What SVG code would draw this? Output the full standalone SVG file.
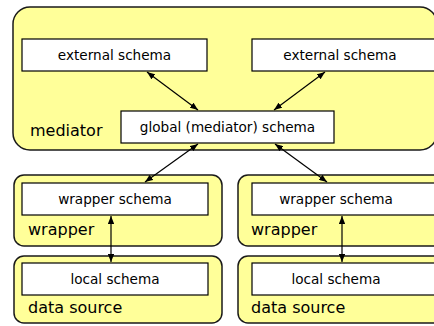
<svg xmlns="http://www.w3.org/2000/svg" width="434" height="326" viewBox="0 0 434 326">
<style>
.grp{fill:#FFFF99;stroke:#1a1a1a;stroke-width:1.5}
.sch{fill:#fff;stroke:#000;stroke-width:1.2}
.st{font-family:"DejaVu Sans",sans-serif;font-size:13.6px;fill:#000;text-anchor:middle}
.lb{font-family:"DejaVu Sans",sans-serif;font-size:16px;fill:#000}
.con{stroke:#000;stroke-width:1.2;fill:none;marker-start:url(#ah);marker-end:url(#ah)}
</style>
<defs>
<marker id="ah" viewBox="0 0 10 8" refX="10" refY="4" markerWidth="8" markerHeight="6.4" markerUnits="userSpaceOnUse" orient="auto-start-reverse">
<path d="M0,0 L10,4 L0,8 Z" fill="#000"/>
</marker>
</defs>
<g id="mediator">
<rect class="grp" x="13" y="7" width="424" height="143" rx="17"/>
<text class="lb" x="30" y="136">mediator</text>
</g>
<g id="external-schema-left">
<rect class="sch" x="22" y="39" width="185" height="32"/>
<text class="st" x="114.5" y="60">external schema</text>
</g>
<g id="external-schema-right">
<rect class="sch" x="252" y="39" width="190" height="32"/>
<text class="st" x="340" y="60">external schema</text>
</g>
<g id="global-schema">
<rect class="sch" x="121" y="111" width="213" height="32"/>
<text class="st" x="227.5" y="132">global (mediator) schema</text>
</g>
<g id="wrapper-left">
<rect class="grp" x="14" y="175" width="208" height="71" rx="10"/>
<text class="lb" x="28" y="235">wrapper</text>
<rect class="sch" x="22" y="183" width="186" height="32"/>
<text class="st" x="115" y="204">wrapper schema</text>
</g>
<g id="wrapper-right">
<rect class="grp" x="238" y="175" width="210" height="71" rx="10"/>
<text class="lb" x="251" y="235">wrapper</text>
<rect class="sch" x="252" y="183" width="190" height="32"/>
<text class="st" x="336" y="204">wrapper schema</text>
</g>
<g id="datasource-left">
<rect class="grp" x="14" y="256" width="208" height="67" rx="10"/>
<text class="lb" x="28" y="313">data source</text>
<rect class="sch" x="22" y="263" width="186" height="32"/>
<text class="st" x="115" y="284">local schema</text>
</g>
<g id="datasource-right">
<rect class="grp" x="238" y="256" width="210" height="67" rx="10"/>
<text class="lb" x="251" y="313">data source</text>
<rect class="sch" x="252" y="263" width="190" height="32"/>
<text class="st" x="336" y="284">local schema</text>
</g>
<g id="connectors">
<line class="con" x1="147" y1="72" x2="198" y2="110"/>
<line class="con" x1="325" y1="72" x2="274" y2="110"/>
<line class="con" x1="198" y1="144" x2="145" y2="182"/>
<line class="con" x1="275" y1="144" x2="327" y2="182"/>
<line class="con" x1="111" y1="216" x2="111" y2="262"/>
<line class="con" x1="342" y1="216" x2="342" y2="262"/>
</g>
</svg>
